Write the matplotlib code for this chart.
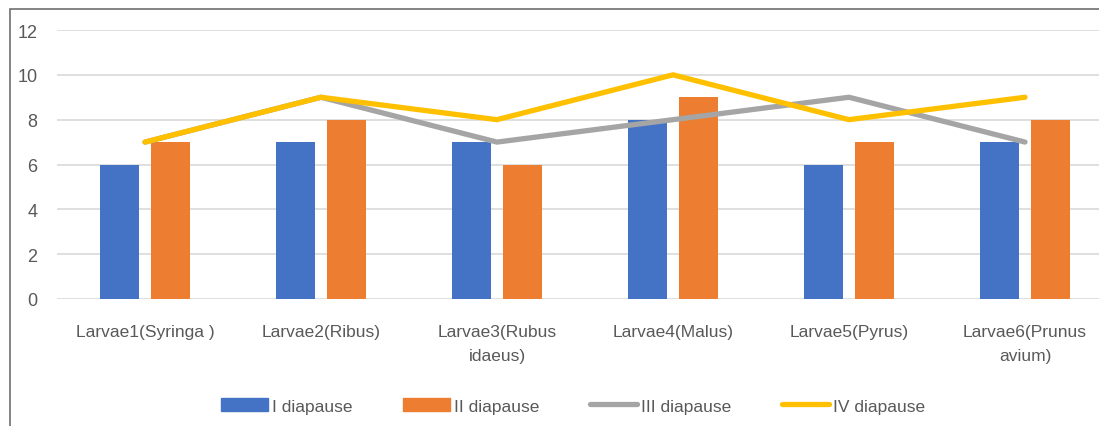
import matplotlib.pyplot as plt
import matplotlib.patches as mpatches
from matplotlib.lines import Line2D
import numpy as np

plt.rcParams['font.family'] = ['Liberation Sans', 'DejaVu Sans']

# data
categories = ["Larvae1(Syringa )", "Larvae2(Ribus)", "Larvae3(Rubus\nidaeus)",
              "Larvae4(Malus)", "Larvae5(Pyrus)", "Larvae6(Prunus\navium)"]
diapause1 = [6, 7, 7, 8, 6, 7]
diapause2 = [7, 8, 6, 9, 7, 8]
diapause3 = [7, 9, 7, 8, 9, 7]
diapause4 = [7, 9, 8, 10, 8, 9]
yticks = [0, 2, 4, 6, 8, 10, 12]

blue = '#4472C4'
orange = '#ED7D31'
gray = '#A5A5A5'
yellow = '#FFC000'
txt = '#595959'

W, H = 1099, 427
fig = plt.figure(figsize=(W / 100, H / 100), dpi=100)

# chart border (right and bottom are cut off in the original)
fig.patches.append(mpatches.Rectangle((10 / W, -0.1), 1.2, 1 - 10 / H + 0.1,
                                      transform=fig.transFigure, fill=False,
                                      edgecolor='#6F6F6F', linewidth=1.2))

ax = fig.add_axes([57 / W, (H - 300) / H, 1056 / W, 269 / H])
x = np.arange(len(categories))
bw = 0.227
ax.bar(x - 0.145, diapause1, bw, color=blue, zorder=2)
ax.bar(x + 0.145, diapause2, bw, color=orange, zorder=2)
ax.plot(x, diapause3, color=gray, linewidth=3.8, solid_capstyle='round',
        solid_joinstyle='round', zorder=3)
ax.plot(x, diapause4, color=yellow, linewidth=3.8, solid_capstyle='round',
        solid_joinstyle='round', zorder=4)

ax.set_xlim(-0.5, len(categories) - 0.5)
ax.set_ylim(0, 12)
ax.set_yticks(yticks)
ax.set_xticks(x)
ax.set_xticklabels(categories, fontsize=12.5, color=txt, linespacing=1.75)
ax.tick_params(axis='y', labelsize=13, colors=txt, length=0, pad=14)
ax.tick_params(axis='x', length=0, pad=18)
ax.grid(axis='y', color='#D9D9D9', linewidth=1.2, zorder=0)
for s in ax.spines.values():
    s.set_visible(False)

handles = [mpatches.Patch(color=blue, label='I diapause'),
           mpatches.Patch(color=orange, label='II diapause'),
           Line2D([], [], color=gray, linewidth=3.8, solid_capstyle='round', label='III diapause'),
           Line2D([], [], color=yellow, linewidth=3.8, solid_capstyle='round', label='IV diapause')]
fig.legend(handles=handles, loc='center', bbox_to_anchor=(573 / W, 1 - 407 / H),
           ncol=4, frameon=False, fontsize=12.5, labelcolor=txt,
           handlelength=2.7, handleheight=0.7, handletextpad=0.2, columnspacing=2.95)

fig.savefig('out.png', dpi=100)
